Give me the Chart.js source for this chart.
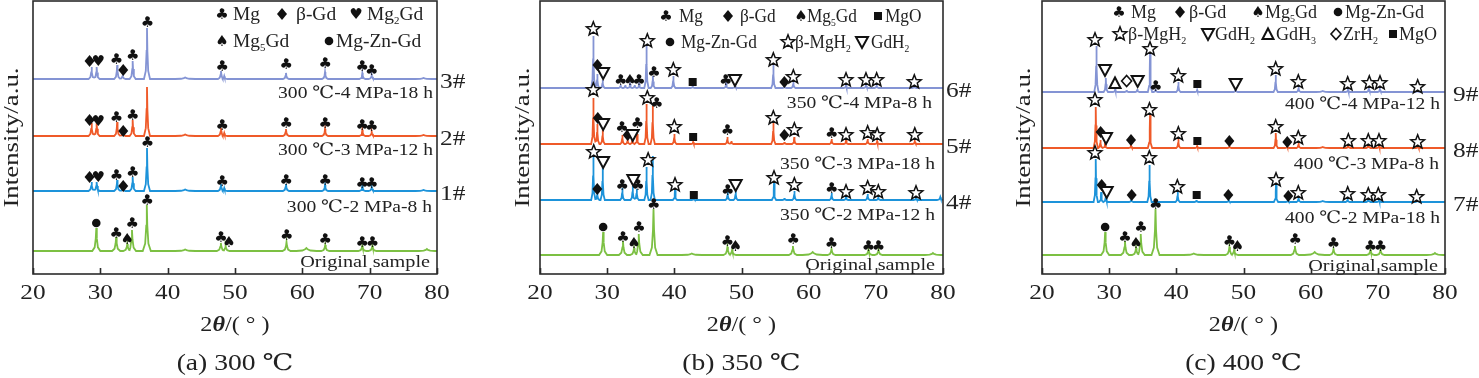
<!DOCTYPE html>
<html><head><meta charset="utf-8">
<script src="https://cdn.jsdelivr.net/npm/chart.js@4.4.0/dist/chart.umd.min.js"></script>
<style>
html,body{margin:0;padding:0;background:#fff;width:1479px;height:378px;overflow:hidden}
canvas{position:absolute;top:0}
</style></head>
<body>
<canvas id="ca" width="490" height="378" style="left:0px;width:490px;height:378px"></canvas>
<canvas id="cb" width="500" height="378" style="left:490px;width:500px;height:378px"></canvas>
<canvas id="cc" width="489" height="378" style="left:990px;width:489px;height:378px"></canvas>
<script>
// ---------------- DATA ----------------
const X_TICKS = [20, 30, 40, 50, 60, 70, 80];
// peaks: [2theta, height above the trace baseline, optional half width]
const ORIG_PEAKS = [[29.4,23],[32.35,14],[34.0,7],[34.7,21],[36.9,46],[42.6,1.5,1.5],[47.9,8],[48.6,5],[57.65,9],[60.6,3,1.5],[63.4,6],[68.9,5],[70.4,5],[78.5,2,1.2]];
const ORIG_MARKS = [[29.4,28,'circle'],[32.35,18,'club'],[34.0,12,'spade'],[34.75,28,'club'],[36.95,51,'club'],[47.9,14,'club'],[49.1,9,'spade'],[57.7,16,'club'],[63.4,12,'club'],[68.9,9,'club'],[70.4,9,'club']];

const S3_PEAKS = [[28.7,12],[29.45,12],[32.5,14],[33.3,4],[34.8,18],[36.93,51],[42.6,1.5,1.5],[47.92,8],[48.4,3],[57.57,6],[63.37,7],[68.91,6],[70.3,4],[78.0,1,1.2]];
const S3_MARKS = [[28.4,18,'diamond'],[29.7,18,'heart'],[32.4,20,'club'],[33.4,9,'diamond'],[34.8,24,'club'],[37.0,57,'club'],[48.1,13,'club'],[57.6,15,'club'],[63.4,16,'club'],[68.9,13,'club'],[70.3,9,'club']];
const S2_PEAKS = [[28.7,13],[29.45,13],[32.5,14],[33.3,4],[34.8,16],[36.93,49],[42.6,1.5,1.5],[47.92,8],[48.4,3],[57.57,7],[63.37,7],[68.91,6],[70.3,4],[78.0,1,1.2]];
const S2_MARKS = [[28.4,16,'diamond'],[29.7,15,'heart'],[32.4,19,'club'],[33.4,5,'diamond'],[34.8,21,'club'],[48.1,11,'club'],[57.6,13,'club'],[63.4,13,'club'],[68.9,11,'club'],[70.3,10,'club']];
const S1_PEAKS = [[28.7,9],[29.45,9],[32.5,11],[33.3,3],[34.8,14],[36.93,43],[42.6,1.5,1.5],[47.92,7],[48.4,3],[57.57,7],[63.37,6],[68.91,5],[70.3,4],[78.0,1,1.2]];
const S1_MARKS = [[28.4,14,'diamond'],[29.7,14,'heart'],[32.4,16,'club'],[33.4,5,'diamond'],[34.8,19,'club'],[37.0,49,'club'],[48.1,10,'club'],[57.6,11,'club'],[63.4,11,'club'],[68.9,8,'club'],[70.3,8,'club']];

const S6_PEAKS = [[27.94,52],[28.53,14],[29.33,8],[32.0,3],[32.7,3],[33.4,4],[34.1,3],[34.75,4],[35.85,42],[36.8,12],[39.85,12],[42.73,2],[47.7,5],[49.03,3],[54.74,23],[56.4,2],[57.72,6],[65.56,3],[68.53,4],[70.12,3],[75.73,2]];
const S6_MARKS = [[27.94,59,'star'],[28.55,23,'diamond'],[29.4,15,'tridown'],[32.0,8,'club'],[33.4,8,'spade'],[34.75,8,'club'],[35.98,47,'star'],[36.97,16,'club'],[39.85,18,'star'],[42.73,6,'square'],[47.64,8,'club'],[49.03,8,'tridown'],[54.74,28,'star'],[56.38,6,'diamond'],[57.72,11,'star'],[65.56,8,'star'],[68.53,8,'star'],[70.12,8,'star'],[75.73,6,'star']];
const S5_PEAKS = [[27.94,46],[28.53,20],[29.33,14],[32.26,9],[33.05,5],[33.75,5],[34.45,10],[35.85,40],[36.78,38],[40.0,10],[42.8,2],[47.9,7],[48.5,3],[54.74,22],[56.4,2],[57.85,7],[63.42,5],[65.56,4],[68.78,5],[70.2,3],[75.8,3]];
const S5_MARKS = [[27.94,54,'star'],[28.6,26,'diamond'],[29.4,20,'tridown'],[32.2,17,'club'],[33.05,9,'diamond'],[33.8,9,'tridown'],[34.5,21,'club'],[35.98,46,'star'],[37.37,41,'club'],[40.0,17,'star'],[42.8,7,'square'],[47.9,14,'club'],[54.74,26,'star'],[56.38,9,'diamond'],[57.87,14,'star'],[63.42,11,'club'],[65.56,9,'star'],[68.78,11,'star'],[70.2,9,'star'],[75.8,9,'star']];
const S4_PEAKS = [[27.94,43],[28.53,8],[29.33,33],[32.26,12],[33.8,14],[34.4,11],[35.85,33],[36.78,44],[40.1,11],[42.9,2],[47.94,8],[49.13,9],[54.84,17],[56.4,2],[57.87,9],[63.42,7],[65.56,4],[68.78,6],[70.37,3],[75.98,3],[79.6,3,0.5]];
const S4_MARKS = [[28.0,48,'star'],[29.4,38,'tridown'],[28.53,11,'diamond'],[32.26,15,'club'],[33.9,20,'tridown'],[34.6,15,'club'],[36.1,40,'star'],[40.1,15,'star'],[42.9,5,'square'],[47.94,10,'club'],[49.13,15,'tridown'],[54.84,22,'star'],[57.87,15,'star'],[63.42,12,'club'],[65.56,8,'star'],[68.78,12,'star'],[70.37,8,'star'],[75.98,7,'star']];

const S9_PEAKS = [[28.1,46],[29.5,14],[30.9,3],[32.6,2],[34.2,3],[36.08,38],[36.92,3],[40.3,10],[43.1,2],[48.83,3],[54.79,17],[58.2,5],[61.8,1,1],[65.56,3],[68.65,4],[70.3,3],[75.9,2]];
const S9_MARKS = [[27.89,52,'star'],[29.38,22,'tridown'],[30.87,9,'triup'],[32.6,11,'odiamond'],[34.24,11,'tridown'],[36.08,43,'star'],[36.92,6,'club'],[40.3,16,'star'],[43.13,8,'square'],[48.83,8,'tridown'],[54.79,23,'star'],[58.16,10,'star'],[65.51,8,'star'],[68.73,9,'star'],[70.32,9,'star'],[75.93,5,'star']];
const S8_PEAKS = [[28.0,41],[28.7,8],[29.4,6],[33.25,3],[36.08,33],[40.3,9],[43.1,2],[47.9,2],[54.8,15],[56.5,2],[58.2,5],[61.8,1,1],[65.6,3],[68.6,4],[70.2,3],[76.0,2]];
const S8_MARKS = [[27.89,48,'star'],[28.73,16,'diamond'],[29.53,10,'tridown'],[33.25,8,'diamond'],[36.0,38,'star'],[40.3,14,'star'],[43.13,7,'square'],[47.89,7,'diamond'],[54.79,21,'star'],[56.52,6,'diamond'],[58.16,10,'star'],[65.61,7,'star'],[68.58,7,'star'],[70.17,7,'star'],[75.93,6,'star']];
const S7_PEAKS = [[28.0,43],[28.8,10],[29.5,7],[33.3,3],[36.0,37],[40.2,10],[43.0,2],[47.8,2],[54.84,18],[56.6,2],[58.2,5],[61.8,1,1],[65.5,3],[68.6,4],[70.2,3],[75.9,3]];
const S7_MARKS = [[27.89,49,'star'],[28.88,17,'diamond'],[29.63,10,'tridown'],[33.35,7,'diamond'],[35.98,44,'star'],[40.15,15,'star'],[43.03,7,'square'],[47.74,7,'diamond'],[54.84,22,'star'],[56.67,6,'diamond'],[58.16,9,'star'],[65.51,8,'star'],[68.58,7,'star'],[70.07,7,'star'],[75.78,5,'star']];

// stacking baselines (top → bottom trace)
const BASES_A = [195, 138, 83, 23];
const BASES_B = [186, 130, 74, 19];
const BASES_C = [182, 126, 72, 19];

const IDS_A = ['3#', '2#', '1#'];
const IDS_B = ['6#', '5#', '4#'];
const IDS_C = ['9#', '8#', '7#'];
const COND_A = ['300 ℃-4 MPa-18 h', '300 ℃-3 MPa-12 h', '300 ℃-2 MPa-8 h', 'Original sample'];
const COND_B = ['350 ℃-4 MPa-8 h', '350 ℃-3 MPa-18 h', '350 ℃-2 MPa-12 h', 'Original sample'];
const COND_C = ['400 ℃-4 MPa-12 h', '400 ℃-3 MPa-8 h', '400 ℃-2 MPa-18 h', 'Original sample'];
const CAPTIONS = ['(a) 300 ℃', '(b) 350 ℃', '(c) 400 ℃'];
const X_TITLE = '2~θ/( ° )';
const Y_TITLE = 'Intensity/a.u.';

const LEG_A = [['club','Mg'],['diamond','β-Gd'],['heart','Mg_2Gd'],['spade','Mg_5Gd'],['circle','Mg-Zn-Gd']];
const LEG_B = [['club','Mg'],['diamond','β-Gd'],['spade','Mg_5Gd'],['square','MgO'],['circle','Mg-Zn-Gd'],['star','β-MgH_2'],['tridown','GdH_2']];
const LEG_C = [['club','Mg'],['diamond','β-Gd'],['spade','Mg_5Gd'],['circle','Mg-Zn-Gd'],['star','β-MgH_2'],['tridown','GdH_2'],['triup','GdH_3'],['odiamond','ZrH_2'],['square','MgO']];

const COLORS = ['#8494d4', '#ef5a29', '#1d93da', '#7cc043'];

// ---------------- HELPERS ----------------
const FAM = '"Liberation Serif","Times New Roman","DejaVu Serif",serif';

function peakPoints(peaks, base, hw) {
  const sorted = peaks.slice().sort((a, b) => a[0] - b[0]);
  const pts = [[20, base]];
  let prevH = 0;
  for (const p of sorted) {
    const x = p[0], h = p[1], w = p[2] || hw;
    const shape = [[x - w, base], [x - w * 0.4, base + h * 0.16], [x - w * 0.13, base + h * 0.55], [x, base + h],
                   [x + w * 0.13, base + h * 0.55], [x + w * 0.4, base + h * 0.16], [x + w, base]];
    const last = pts[pts.length - 1];
    if (pts.length > 1 && last[0] > shape[0][0]) {
      pts.pop();
      const prevSh = pts[pts.length - 1];
      const vx = (prevSh[0] + shape[1][0]) / 2;
      pts.push([vx, base + Math.min(prevH, h) * 0.12]);
      for (let i = 1; i < shape.length; i++) pts.push(shape[i]);
    } else {
      for (const s of shape) pts.push(s);
    }
    prevH = h;
  }
  pts.push([80, base]);
  return pts.map(p => ({x: p[0], y: p[1]}));
}

function parseRich(str) {
  const segs = [];
  let cur = '';
  for (let i = 0; i < str.length; i++) {
    const c = str[i];
    if ((c === '_' || c === '~') && i + 1 < str.length) {
      if (cur) segs.push({t: cur, k: 'n'});
      cur = '';
      segs.push({t: str[i + 1], k: c === '_' ? 's' : 'i'});
      i++;
    } else cur += c;
  }
  if (cur) segs.push({t: cur, k: 'n'});
  return segs;
}

function drawRich(ctx, str, x, y, size, align, stretch, rot) {
  const segs = parseRich(str);
  ctx.save();
  ctx.translate(x, y);
  if (rot) ctx.rotate(rot);
  ctx.scale(stretch, 1);
  ctx.fillStyle = '#222';
  ctx.textBaseline = 'alphabetic';
  ctx.textAlign = 'left';
  const fontOf = s => s.k === 's' ? `${Math.round(size * 0.58)}px ${FAM}` : s.k === 'i' ? `italic bold ${size}px ${FAM}` : `${size}px ${FAM}`;
  let w = 0;
  for (const s of segs) { ctx.font = fontOf(s); s.w = ctx.measureText(s.t).width; w += s.w; }
  let cx = align === 'center' ? -w / 2 : align === 'right' ? -w : 0;
  const by = size * 0.34;
  for (const s of segs) {
    ctx.font = fontOf(s);
    ctx.fillText(s.t, cx, by + (s.k === 's' ? size * 0.2 : 0));
    cx += s.w;
  }
  ctx.restore();
}

function drawMark(ctx, type, x, y) {
  ctx.save();
  ctx.fillStyle = '#111';
  ctx.strokeStyle = '#111';
  ctx.lineWidth = 1.6;
  ctx.lineJoin = 'miter';
  const poly = (pts, fill, stroke) => {
    ctx.beginPath();
    pts.forEach((p, i) => i ? ctx.lineTo(x + p[0], y + p[1]) : ctx.moveTo(x + p[0], y + p[1]));
    ctx.closePath();
    if (fill) ctx.fill();
    if (stroke) ctx.stroke();
  };
  switch (type) {
    case 'club': case 'heart': case 'spade':
      ctx.font = '15px "DejaVu Sans"';
      ctx.textAlign = 'center';
      ctx.textBaseline = 'middle';
      ctx.fillText({club: '\u2663', heart: '\u2665', spade: '\u2660'}[type], x, y + 1);
      break;
    case 'diamond': poly([[0,-6],[5,0],[0,6],[-5,0]], true, false); break;
    case 'odiamond': ctx.fillStyle = '#fff'; poly([[0,-5.5],[5,0],[0,5.5],[-5,0]], true, true); break;
    case 'circle': ctx.beginPath(); ctx.arc(x, y, 4.3, 0, Math.PI * 2); ctx.fill(); break;
    case 'square': ctx.fillRect(x - 4, y - 4, 8, 8); break;
    case 'tridown': ctx.lineWidth = 2; ctx.fillStyle = '#fff'; poly([[-6,-5],[6,-5],[0,6]], true, true); break;
    case 'triup': ctx.lineWidth = 2; ctx.fillStyle = '#fff'; poly([[-5.5,5],[5.5,5],[0,-5.5]], true, true); break;
    case 'star': {
      const pts = [];
      for (let k = 0; k < 10; k++) {
        const r = k % 2 ? 3.1 : 7.2;
        const a = -Math.PI / 2 + k * Math.PI / 5;
        pts.push([r * Math.cos(a), r * Math.sin(a)]);
      }
      ctx.lineWidth = 1.5;
      ctx.fillStyle = '#fff';
      poly(pts, true, true);
      break;
    }
  }
  ctx.restore();
}

// ---------------- PANELS ----------------
function makePanel(cfg) {
  const canvas = document.getElementById(cfg.canvas);
  const traces = cfg.peaks.map((pk, i) => ({
    data: peakPoints(pk, cfg.bases[i], i === 3 ? 0.6 : cfg.hw),
    borderColor: COLORS[i],
    borderWidth: 1.8,
    pointRadius: 0,
    tension: 0,
    fill: false
  }));
  const L = cfg.left; // canvas offset on page
  const decor = {
    id: 'decor_' + cfg.canvas,
    afterDatasetsDraw(chart) {
      const ctx = chart.ctx, xs = chart.scales.x, ys = chart.scales.y;
      cfg.marks.forEach((mk, i) => {
        mk.forEach(m => drawMark(ctx, m[2], xs.getPixelForValue(m[0]), ys.getPixelForValue(cfg.bases[i] + m[1])));
      });
    },
    afterDraw(chart) {
      const ctx = chart.ctx, xs = chart.scales.x, ys = chart.scales.y, a = chart.chartArea;
      ctx.save();
      ctx.strokeStyle = '#2b2b2b';
      ctx.lineWidth = 1.6;
      ctx.strokeRect(a.left, a.top, a.right - a.left, a.bottom - a.top);
      ctx.beginPath();
      X_TICKS.forEach(t => {
        const px = Math.round(xs.getPixelForValue(t)) + 0.5;
        ctx.moveTo(px, a.bottom);
        ctx.lineTo(px, a.bottom - 6);
      });
      ctx.stroke();
      ctx.restore();
      X_TICKS.forEach(t => drawRich(ctx, String(t), xs.getPixelForValue(t), 292, 22, 'center', 1.15));
      const cxm = (a.left + a.right) / 2;
      drawRich(ctx, X_TITLE, cxm, 324, 22, 'center', 1.1);
      drawRich(ctx, cfg.caption, cxm, 362, 23, 'center', 1.2);
      drawRich(ctx, Y_TITLE, cfg.yTitleX - L, (a.top + a.bottom) / 2, 22, 'center', 1.22, -Math.PI / 2);
      cfg.ids.forEach((id, i) => {
        drawRich(ctx, id, cfg.idX - L, ys.getPixelForValue(cfg.bases[i]) + 2, 22, 'left', 1.15);
      });
      cfg.conds.forEach((c, i) => {
        drawRich(ctx, c, cfg.condX[i] - L, cfg.condY[i], 17, 'right', i === 3 ? 1.19 : 1.15);
      });
      cfg.legend.forEach((it, i) => {
        const p = cfg.legPos[i];
        drawMark(ctx, it[0], p[0] - L, p[2]);
        drawRich(ctx, it[1], p[1] - L, p[2], 18, 'left', cfg.legStretch);
      });
    }
  };
  return new Chart(canvas, {
    type: 'line',
    data: {datasets: traces},
    options: {
      responsive: false,
      animation: false,
      events: [],
      layout: {padding: {left: cfg.padL, right: cfg.padR, top: 1, bottom: 104}},
      scales: {
        x: {type: 'linear', min: 20, max: 80, display: false},
        y: {type: 'linear', min: 0, max: 273, display: false}
      },
      plugins: {legend: {display: false}, tooltip: {enabled: false}}
    },
    plugins: [decor]
  });
}

function init() {
  makePanel({
    canvas: 'ca', left: 0, padL: 33, padR: 53, hw: 0.45, legStretch: 1.08,
    peaks: [S3_PEAKS, S2_PEAKS, S1_PEAKS, ORIG_PEAKS],
    marks: [S3_MARKS, S2_MARKS, S1_MARKS, ORIG_MARKS],
    bases: BASES_A, ids: IDS_A, conds: COND_A, caption: CAPTIONS[0],
    idX: 440, condX: [433, 433, 432, 430], condY: [92, 149, 206, 261], yTitleX: 11,
    legend: LEG_A,
    legPos: [[222,233,14],[282,296,14],[356,367,14],[222,233,41],[329,336,41]]
  });
  makePanel({
    canvas: 'cb', left: 490, padL: 50, padR: 47, hw: 0.32, legStretch: 0.96,
    peaks: [S6_PEAKS, S5_PEAKS, S4_PEAKS, ORIG_PEAKS],
    marks: [S6_MARKS, S5_MARKS, S4_MARKS, ORIG_MARKS],
    bases: BASES_B, ids: IDS_B, conds: COND_B, caption: CAPTIONS[1],
    idX: 946, condX: [932, 935, 935, 935], condY: [102, 163, 214, 264], yTitleX: 522,
    legend: LEG_B,
    legPos: [[666,679,16],[728,740,16],[801,807,16],[878,885,16],[670,681,42],[788,795,42],[862,871,42]]
  });
  makePanel({
    canvas: 'cc', left: 990, padL: 52, padR: 34, hw: 0.32, legStretch: 1.0,
    peaks: [S9_PEAKS, S8_PEAKS, S7_PEAKS, ORIG_PEAKS],
    marks: [S9_MARKS, S8_MARKS, S7_MARKS, ORIG_MARKS],
    bases: BASES_C, ids: IDS_C, conds: COND_C, caption: CAPTIONS[2],
    idX: 1453, condX: [1440, 1439, 1440, 1438], condY: [103, 163, 217, 265], yTitleX: 1023,
    legend: LEG_C,
    legPos: [[1119,1131,12],[1180,1189,12],[1258,1265,12],[1338,1345,12],[1120,1128,34],[1208,1215,34],[1268,1276,34],[1336,1343,34],[1393,1399,34]]
  });
}

if (document.fonts && document.fonts.load) {
  Promise.all([
    document.fonts.load('20px "Liberation Serif"'),
    document.fonts.load('italic bold 20px "Liberation Serif"'),
    document.fonts.load('15px "DejaVu Sans"')
  ]).then(init, init);
} else init();
</script>
</body></html>
